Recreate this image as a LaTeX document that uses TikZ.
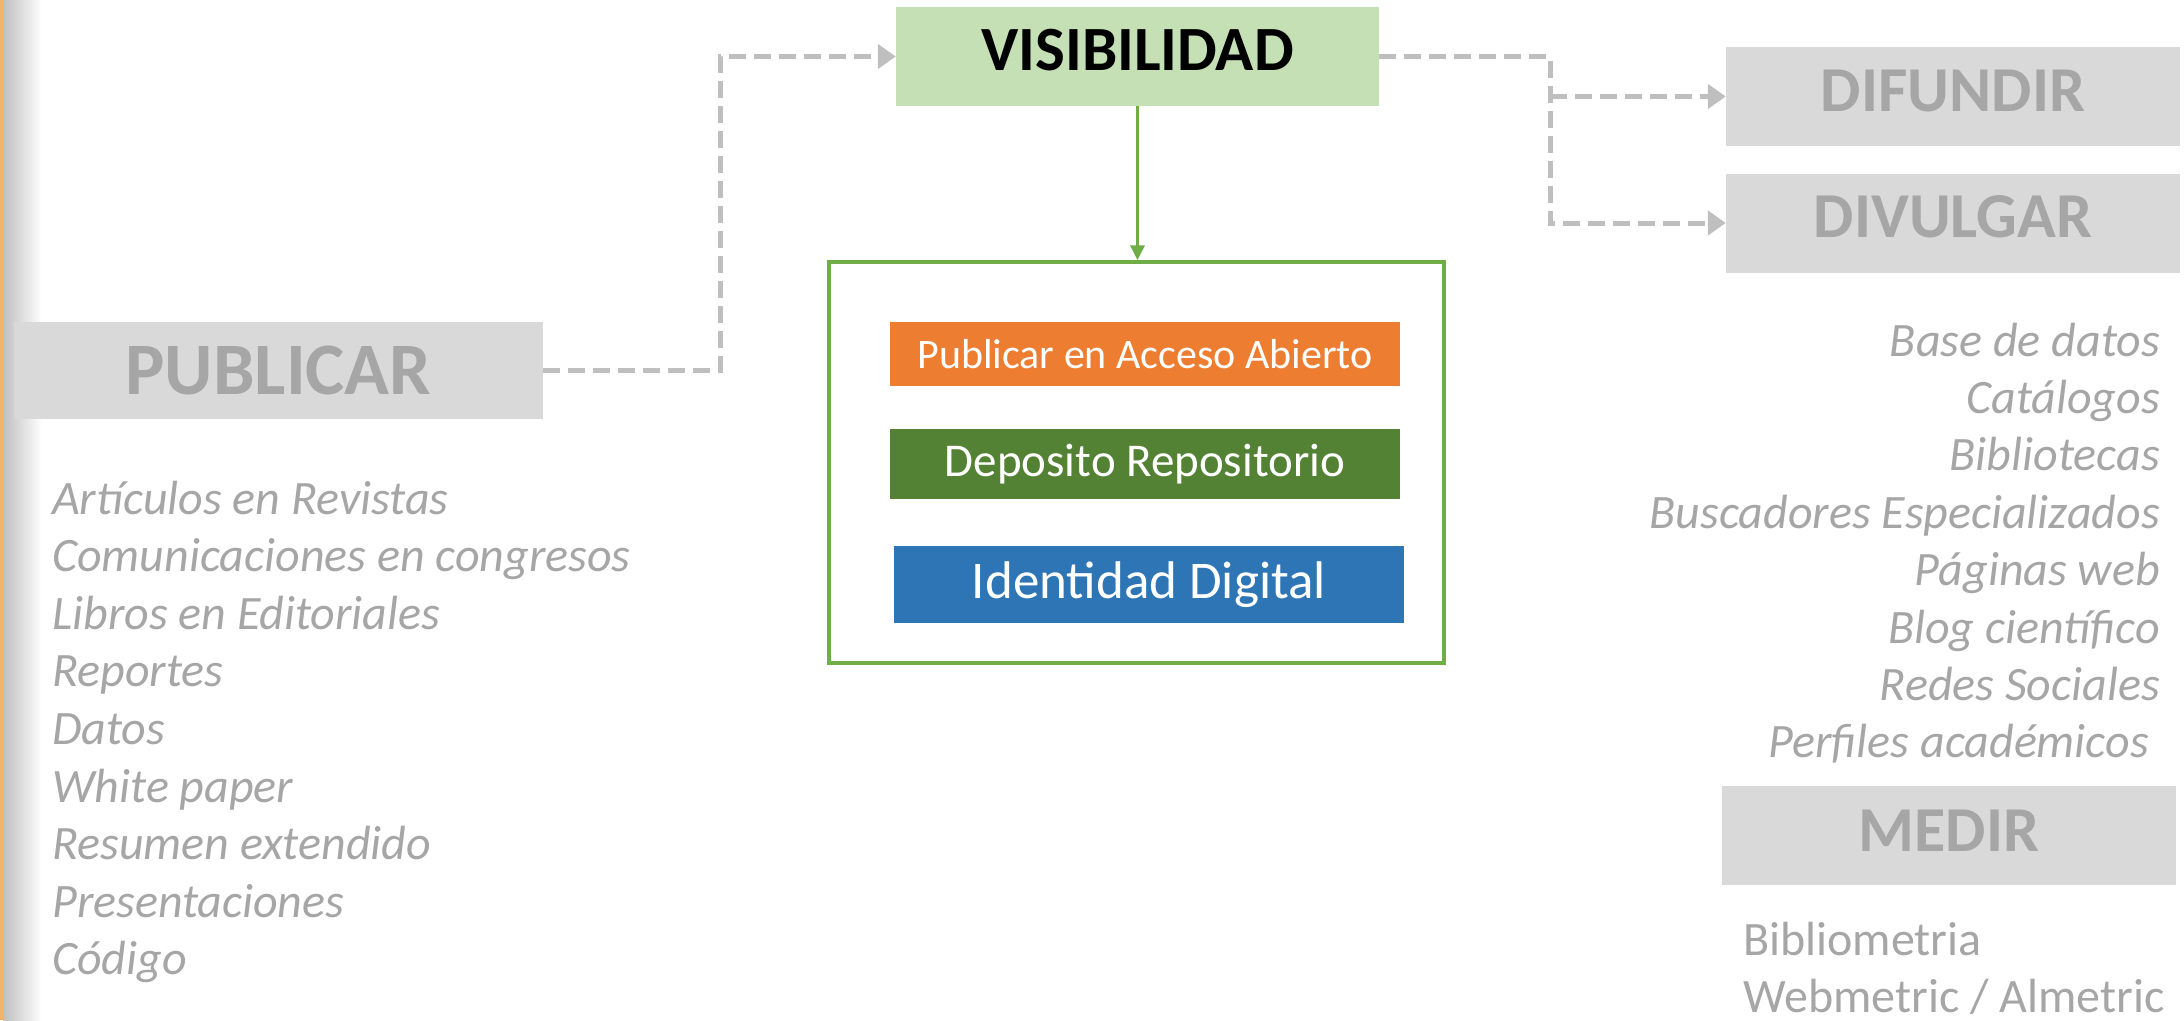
\documentclass[tikz,border=0pt]{standalone}
\usepackage{fontspec}
\setmainfont{Carlito}
\usetikzlibrary{arrows.meta}
\definecolor{headgray}{HTML}{D9D9D9}
\definecolor{headtext}{HTML}{A6A6A6}
\definecolor{dashgray}{HTML}{BFBFBF}
\definecolor{visfill}{HTML}{C5E0B4}
\definecolor{vgreen}{HTML}{70AD47}
\definecolor{oaorange}{HTML}{ED7D31}
\definecolor{depgreen}{HTML}{548235}
\definecolor{idblue}{HTML}{2E75B6}
\definecolor{listgray}{HTML}{A6A6A6}
\definecolor{edgeorange}{HTML}{F2B36B}
\begin{document}
\begin{tikzpicture}[x=1pt,y=-1pt,
  headbox/.style={fill=headgray, text=headtext, inner sep=0pt,
    font=\fontsize{64}{70}\selectfont\bfseries,
    minimum width=454pt, minimum height=99pt},
  inbox/.style={text=white, inner sep=0pt, minimum width=510pt},
  dashc/.style={draw=dashgray, line width=5pt, dash pattern=on 17pt off 8pt,
    -{Triangle[length=18pt,width=24pt]}},
  litem/.style={text=listgray, inner sep=0pt, font=\fontsize{48}{56}\selectfont\itshape},
  mitem/.style={text=listgray, inner sep=0pt, font=\fontsize{48}{56}\selectfont},
]
\useasboundingbox (0,0) rectangle (2184,1020);
% left edge decoration
\shade[left color=black!25, right color=white] (3,0) rectangle (42,1020);
\fill[edgeorange] (0,0) rectangle (4,1020);

% headings
\node[headbox, minimum width=529pt, minimum height=97pt,
      font=\fontsize{74}{80}\selectfont\bfseries] (pub) at (278.5,370.5) {PUBLICAR};
\node[fill=visfill, text=black, inner sep=0pt, minimum width=483pt, minimum height=99pt,
      font=\fontsize{63}{70}\selectfont\bfseries, text depth=14pt] (vis) at (1137.5,56.5) {VISIBILIDAD};
\node[headbox, text depth=12pt] (dif) at (1953,96.5) {DIFUNDIR};
\node[headbox, text depth=12pt] (div) at (1953,223) {DIVULGAR};
\node[headbox, text depth=10pt] (med) at (1949,835.5) {MEDIR};

% container and inner boxes
\node[draw=vgreen, line width=3.5pt, minimum width=615pt, minimum height=401pt, inner sep=0pt]
  (cont) at (1136.5,462.5) {};
\node[inbox, fill=oaorange, minimum height=64pt, font=\fontsize{42}{50}\selectfont]
  (oa) at (1145,354) {Publicar en Acceso Abierto};
\node[inbox, fill=depgreen, minimum height=70pt, font=\fontsize{47}{55}\selectfont]
  (dep) at (1145,464) {Deposito Repositorio};
\node[inbox, fill=idblue, minimum height=77pt, font=\fontsize{53}{60}\selectfont]
  (idd) at (1149,584.5) {Identidad Digital};

% connectors
\draw[dashc] (pub.east) -- ++(177,0) |- (vis.west);
\coordinate (j) at (1550,56.5);
\draw[dashc] (vis.east) -- (j) |- (div.west);
\draw[dashc] (j |- dif.west) -- (dif.west);
\draw[vgreen, line width=3.5pt, -{Triangle[length=15pt,width=14pt]}] (vis.south) -- (vis.south |- cont.north);

% left list
\foreach \t [count=\i] in {Artículos en Revistas, Comunicaciones en congresos, Libros en Editoriales, Reportes, Datos, White paper, Resumen extendido, Presentaciones, Código}
  \node[litem, anchor=base west] (L\i) at (52,{514+57.6*(\i-1)}) {\t};

% right list
\node[litem, anchor=base east] (R1) at (2160,356) {Base de datos};
\node[litem, anchor=base east] (R2) at (2160,413.4) {Catálogos};
\node[litem, anchor=base east] (R3) at (2160,470.8) {Bibliotecas};
\node[litem, anchor=base east] (R4) at (2160,528.2) {Buscadores Especializados};
\node[litem, anchor=base east] (R5) at (2160,585.6) {Páginas web};
\node[litem, anchor=base east] (R6) at (2160,643) {Blog científico};
\node[litem, anchor=base east] (R7) at (2160,700.4) {Redes Sociales};
\node[litem, anchor=base east] (R8) at (2149,757.8) {Perfiles académicos};

% medir list
\node[mitem, anchor=base west] (M1) at (1743,955) {Bibliometria};
\node[mitem, anchor=base west] (M2) at (1743,1012) {Webmetric / Almetric};
\end{tikzpicture}
\end{document}
